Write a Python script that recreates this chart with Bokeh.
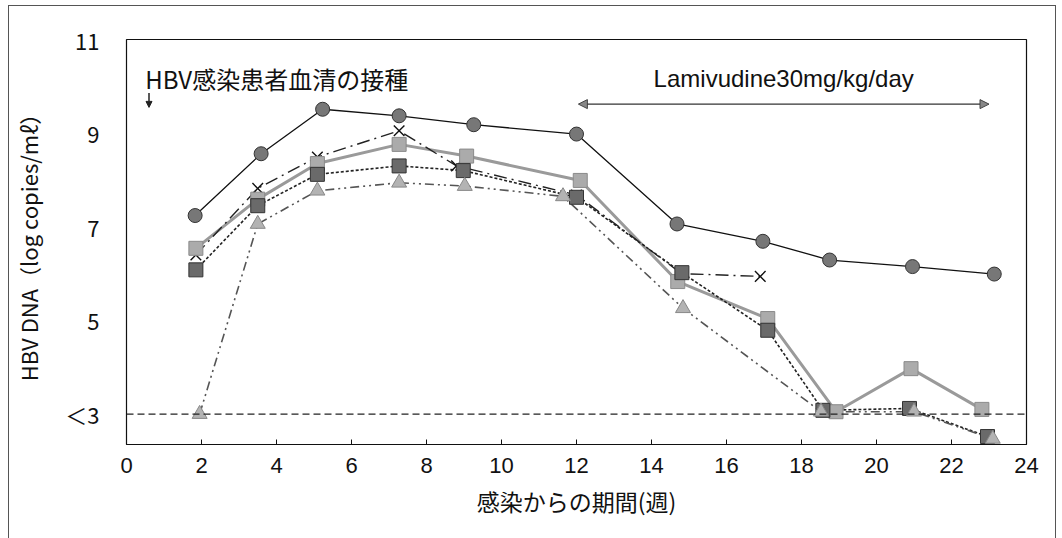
from bokeh.plotting import figure
from bokeh.models import Range1d, Arrow, NormalHead, Span, FixedTicker, Label
from bokeh.embed import file_html
from bokeh.resources import INLINE

# Weeks after inoculation and serum HBV DNA (log copies/ml) for each animal
weeks_a = [1.83, 3.59, 5.23, 7.27, 9.26, 12.0, 14.68, 16.97, 18.75, 20.96, 23.14]
dna_a = [7.24, 8.56, 9.51, 9.37, 9.18, 8.98, 7.06, 6.69, 6.29, 6.15, 5.99]

weeks_b = [1.85, 3.50, 5.09, 7.27, 9.07, 12.1, 14.70, 17.1, 18.92, 20.92, 22.81]
dna_b = [6.54, 7.59, 8.35, 8.76, 8.51, 7.99, 5.83, 5.04, 3.05, 3.97, 3.1]

weeks_c = [1.85, 3.50, 5.09, 7.27, 8.98, 12.0, 14.81, 17.1, 18.57, 20.88, 22.96]
dna_c = [6.08, 7.45, 8.12, 8.30, 8.20, 7.63, 6.02, 4.79, 3.08, 3.12, 2.52]

weeks_d = [1.95, 3.50, 5.09, 7.27, 9.02, 11.64, 14.84, 18.52, 21.0, 23.1]
dna_d = [3.0, 7.06, 7.77, 7.94, 7.87, 7.65, 5.26, 3.05, 3.05, 2.47]

weeks_e = [1.85, 3.50, 5.09, 7.27, 8.8, 12.0, 14.8, 16.9]
dna_e = [6.4, 7.82, 8.49, 9.05, 8.3, 7.68, 6.0, 5.94]

x_ticks = list(range(0, 25, 2))
y_ticks = [3, 5, 7, 9, 11]
y_tick_labels = {3: "＜3", 5: "5", 7: "7", 9: "9", 11: "11"}
detection_limit = 3

inoculation_week = 0.6
inoculation_text = "HBV感染患者血清の接種"
treatment_start, treatment_end = 12.05, 23.0
treatment_text = "Lamivudine30mg/kg/day"

LATIN = "Liberation Sans"
CJK = "Noto Sans CJK JP"

p = figure(
    width=1046, height=540,
    x_range=Range1d(0, 24), y_range=Range1d(2.35, 11),
    output_backend="svg", toolbar_location=None,
    min_border_left=114, min_border_right=31,
    min_border_top=33, min_border_bottom=104,
)
p.margin = (5, 0, 0, 8)
p.styles = {"border": "1px solid #555", "box-sizing": "content-box"}

p.background_fill_color = "white"
p.border_fill_color = "white"
p.outline_line_color = "#111"
p.outline_line_width = 1.2
p.xgrid.visible = False
p.ygrid.visible = False

# x axis: inward ticks on the bottom edge
xa = p.xaxis[0]
xa.ticker = FixedTicker(ticks=x_ticks)
xa.axis_line_color = None
xa.major_tick_in = 5
xa.major_tick_out = 0
xa.major_tick_line_color = "#111"
xa.minor_tick_line_color = None
xa.major_label_text_font = LATIN
xa.major_label_text_font_size = "22px"
xa.major_label_text_color = "#111"
xa.major_label_standoff = 13
xa.axis_label = "感染からの期間(週)"
xa.axis_label_text_font = CJK
xa.axis_label_text_font_style = "normal"
xa.axis_label_text_font_size = "23px"
xa.axis_label_text_color = "#111"
xa.axis_label_standoff = 8

# y axis: labels only
ya = p.yaxis[0]
ya.ticker = FixedTicker(ticks=y_ticks)
ya.major_label_overrides = y_tick_labels
ya.axis_line_color = None
ya.major_tick_line_color = None
ya.minor_tick_line_color = None
ya.major_label_text_font = CJK
ya.major_label_text_font_size = "22px"
ya.major_label_text_color = "#111"
ya.major_label_standoff = 21
ya.axis_label = "HBV DNA（log copies/mℓ）"
ya.axis_label_text_font = CJK
ya.axis_label_text_font_style = "normal"
ya.axis_label_text_font_size = "22px"
ya.axis_label_text_color = "#111"
ya.axis_label_standoff = 18

# detection limit
p.add_layout(Span(location=detection_limit, dimension="width",
                  line_color="#222", line_width=1.2, line_dash="7 4"))

# series lines
p.line(weeks_b, dna_b, line_color="#9a9a9a", line_width=3)
p.line(weeks_c, dna_c, line_color="#222", line_width=1.6, line_dash="3 2")
p.line(weeks_d, dna_d, line_color="#555", line_width=1.6, line_dash="9 4 2 4 2 4")
p.line(weeks_e, dna_e, line_color="#222", line_width=1.4, line_dash="13 5 2 5")
p.line(weeks_a, dna_a, line_color="#111", line_width=1.3)

# series markers (crosses sit beneath the squares)
p.scatter(weeks_e, dna_e, marker="x", size=15,
          line_color="#111", line_width=1.4)
p.scatter(weeks_b, dna_b, marker="square", size=14,
          fill_color="#ababab", line_color="#8a8a8a", line_width=1)
p.scatter(weeks_c, dna_c, marker="square", size=14,
          fill_color="#6a6a6a", line_color="#333", line_width=1)
p.scatter(weeks_d, dna_d, marker="triangle", size=15,
          fill_color="#b3b3b3", line_color="#888", line_width=1)
p.scatter(weeks_a, dna_a, marker="circle", size=14,
          fill_color="#777", line_color="#333", line_width=1)

# inoculation note
p.add_layout(Label(x=0.5, y=10.17, text=inoculation_text,
                   text_font=CJK, text_font_size="24px", text_color="#111",
                   text_baseline="middle", text_align="left"))
p.add_layout(Arrow(x_start=inoculation_week, y_start=9.86,
                   x_end=inoculation_week, y_end=9.55,
                   line_color="#222", line_width=1.5,
                   end=NormalHead(size=6, fill_color="#222", line_color="#222")))

# lamivudine treatment period
p.add_layout(Label(x=(treatment_start + treatment_end) / 2, y=10.17,
                   text=treatment_text, text_font=LATIN,
                   text_font_size="24px", text_color="#111",
                   text_baseline="middle", text_align="center"))
p.add_layout(Arrow(x_start=treatment_start, y_start=9.62,
                   x_end=treatment_end, y_end=9.62,
                   line_color="#333", line_width=1.3,
                   start=NormalHead(size=9, fill_color="#888", line_color="#444"),
                   end=NormalHead(size=9, fill_color="#888", line_color="#444")))

open("out.html", "w").write(file_html(p, INLINE))
